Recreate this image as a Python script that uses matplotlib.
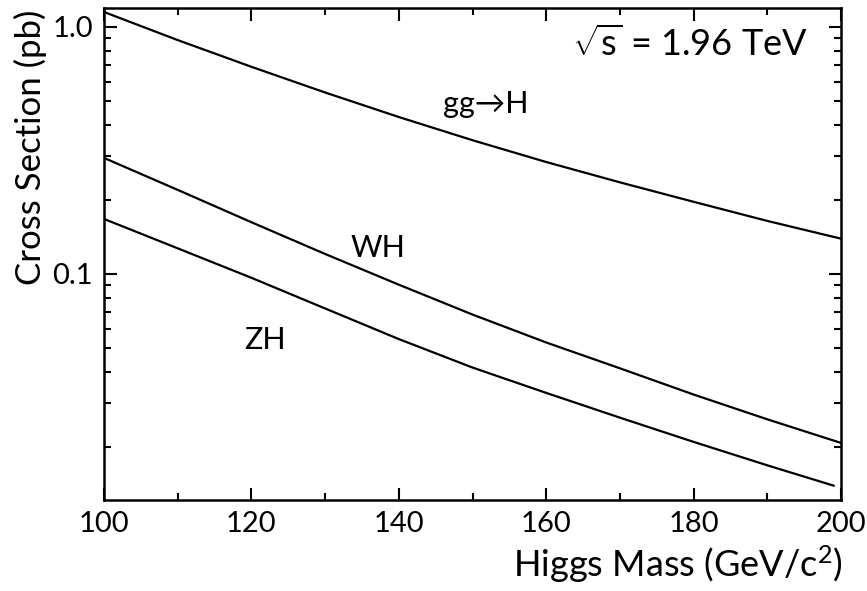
import matplotlib
matplotlib.use('Agg')
import matplotlib.pyplot as plt
from matplotlib.ticker import FixedLocator, LogLocator, NullFormatter, FuncFormatter

plt.rcParams['font.family'] = ['Lato', 'DejaVu Sans']
plt.rcParams['mathtext.fontset'] = 'custom'
plt.rcParams['mathtext.rm'] = 'Lato'
plt.rcParams['mathtext.it'] = 'Lato:italic'

# Higgs production cross sections at the Tevatron
masses = [100, 110, 120, 130, 140, 150, 160, 170, 180, 190, 200]
ggh = [1.15, 0.885, 0.69, 0.543, 0.432, 0.348, 0.284, 0.235, 0.196, 0.164, 0.139]
wh = [0.295, 0.219, 0.162, 0.1205, 0.0905, 0.0685, 0.0528, 0.0415, 0.0325, 0.0258, 0.0207]
zh_masses = [100, 110, 120, 130, 140, 150, 160, 170, 180, 190, 199]
zh = [0.167, 0.127, 0.0965, 0.0725, 0.0545, 0.0418, 0.033, 0.0262, 0.0209, 0.0168, 0.0139]

fig = plt.figure(figsize=(8.67, 5.91), dpi=100)
ax = fig.add_axes([0.12, 0.154, 0.85, 0.8325])

for xs, ys in [(masses, ggh), (masses, wh), (zh_masses, zh)]:
    ax.plot(xs, ys, color='black', lw=1.6)

ax.set_yscale('log')
ax.set_xlim(100, 200)
ax.set_ylim(0.01216, 1.194)

ax.xaxis.set_major_locator(FixedLocator([100, 120, 140, 160, 180, 200]))
ax.xaxis.set_minor_locator(FixedLocator([110, 130, 150, 170, 190]))
ax.yaxis.set_major_locator(FixedLocator([0.1, 1.0]))
ax.yaxis.set_minor_locator(LogLocator(base=10, subs=range(2, 10)))
ax.yaxis.set_major_formatter(FuncFormatter(lambda v, p: '%.1f' % v))
ax.yaxis.set_minor_formatter(NullFormatter())

ax.tick_params(which='both', direction='in', top=True, right=True, width=1.5,
               labelsize=21, pad=8)
ax.tick_params(which='major', length=9)
ax.tick_params(which='minor', length=5)
for s in ax.spines.values():
    s.set_linewidth(1.8)

ax.text(0.955, 0.965, r'$\sqrt{\mathrm{s}}$ = 1.96 TeV', transform=ax.transAxes,
        ha='right', va='top', fontsize=26)
ax.text(146, 0.49, 'gg\u2192H', fontsize=22, ha='left', va='center')
ax.text(133.5, 0.128, 'WH', fontsize=22, ha='left', va='center')
ax.text(119, 0.054, 'ZH', fontsize=22, ha='left', va='center')

fig.text(0.972, 0.024, r'Higgs Mass (GeV/c$^2$)', ha='right', va='baseline', fontsize=26)
fig.text(0.016, 0.983, 'Cross Section (pb)', rotation=90, ha='left', va='top', fontsize=25)

fig.savefig('out.png', dpi=100)
